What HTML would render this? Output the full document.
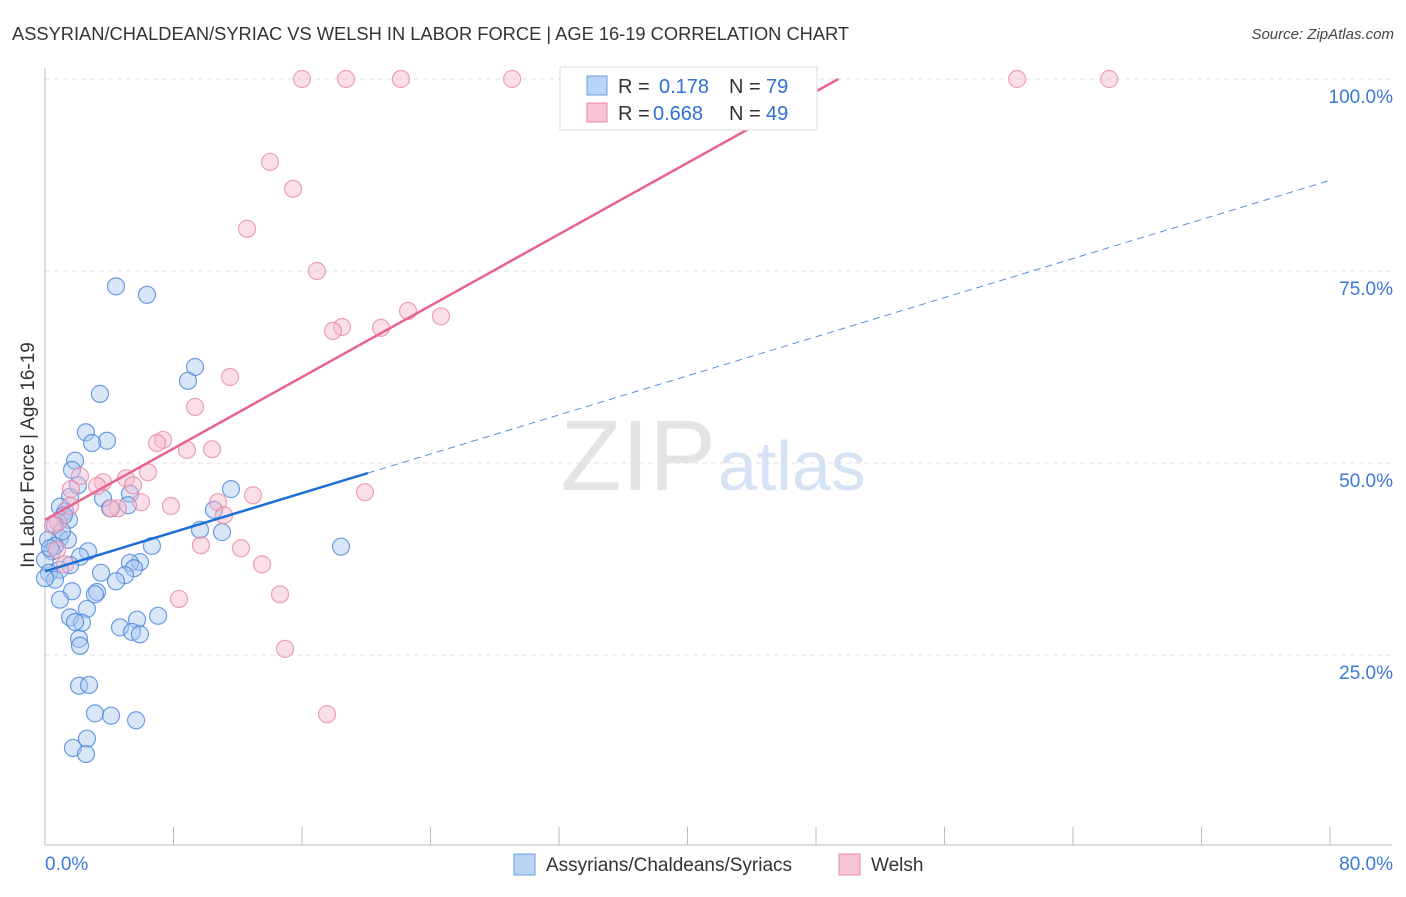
<!DOCTYPE html>
<html><head><meta charset="utf-8"><style>
body{margin:0;background:#fff;font-family:"Liberation Sans",sans-serif;}
svg text{font-family:"Liberation Sans",sans-serif;}
</style></head><body>
<svg id="chart" width="1406" height="892">
<text x="12" y="40" font-size="18.3" fill="#333">ASSYRIAN/CHALDEAN/SYRIAC VS WELSH IN LABOR FORCE | AGE 16-19 CORRELATION CHART</text>
<text x="1394" y="39" font-size="15" fill="#444" font-style="italic" text-anchor="end">Source: ZipAtlas.com</text>
<g id="grid"></g>
<text x="716" y="490" font-size="100" fill="#e4e4e4" font-family="Liberation Serif" text-anchor="end">ZIP</text>
<text x="718" y="490" font-size="70" fill="#d6e3f5">atlas</text>
<g id="marks"></g>
<text transform="translate(34,455) rotate(-90)" font-size="19" fill="#333" text-anchor="middle">In Labor Force | Age 16-19</text>
<g>
<rect x="560" y="67" width="257" height="63" fill="#fff" stroke="#ddd"/>
<rect x="587" y="76" width="20" height="19" fill="#b9d3f5" stroke="#6d9fe0"/>
<rect x="587" y="103" width="20" height="19" fill="#f9c4d4" stroke="#e88aa8"/>
<text x="618" y="93" font-size="20" fill="#333">R =</text>
<text x="659" y="93" font-size="20" fill="#2f6fd6">0.178</text>
<text x="729" y="93" font-size="20" fill="#333">N =</text>
<text x="766" y="93" font-size="20" fill="#2f6fd6">79</text>
<text x="618" y="120" font-size="20" fill="#333">R =</text>
<text x="653" y="120" font-size="20" fill="#2f6fd6">0.668</text>
<text x="729" y="120" font-size="20" fill="#333">N =</text>
<text x="766" y="120" font-size="20" fill="#2f6fd6">49</text>
</g>
<g>
<rect x="514" y="854" width="21" height="21" fill="#b9d3f5" stroke="#6d9fe0"/>
<text x="546" y="871" font-size="19" fill="#333">Assyrians/Chaldeans/Syriacs</text>
<rect x="839" y="854" width="21" height="21" fill="#f9c4d4" stroke="#e88aa8"/>
<text x="871" y="871" font-size="19" fill="#333">Welsh</text>
</g>
</svg>
<script>
const blueX=[4.42,6.35,9.34,8.90,3.42,2.55,3.86,2.93,1.87,1.68,5.29,3.61,1.56,2.05,11.58,5.17,4.05,10.52,1.25,0.93,1.49,1.18,9.65,11.02,0.62,0.93,1.43,0.19,0.62,6.66,2.68,0.44,18.43,2.18,0,1.56,0.93,5.91,5.29,5.54,3.49,4.98,4.42,0.25,0.62,0,1.68,3.24,3.11,0.93,2.61,7.04,5.73,1.56,2.30,1.87,4.67,5.42,5.91,2.12,2.18,2.12,2.74,3.11,4.11,5.67,2.61,1.74,2.55,0.31,1.06];
const blueY=[73.0,71.9,62.5,60.7,59.0,54.0,52.9,52.6,50.3,49.1,46.0,45.4,45.6,47.1,46.6,44.5,44.1,43.9,43.7,44.3,42.6,43.2,41.3,41.0,41.9,40.2,40.0,40.0,39.2,39.2,38.5,38.5,39.1,37.8,37.4,36.7,36.1,37.1,37.0,36.3,35.7,35.4,34.6,35.7,34.8,35.0,33.3,33.2,32.9,32.2,31.0,30.1,29.6,29.9,29.2,29.3,28.6,28.0,27.7,27.1,26.2,21.0,21.1,17.4,17.1,16.5,14.1,12.9,12.1,38.9,41.1];
const pinkX=[16.0,18.74,22.16,29.08,60.52,66.25,36.30,14.01,15.44,12.58,16.93,22.60,20.92,24.65,18.49,17.93,11.52,9.34,7.35,6.97,8.84,10.40,6.41,5.04,3.61,3.24,2.18,1.62,5.48,5.98,7.84,4.54,4.11,10.77,12.95,19.92,11.14,0.81,0.50,0.75,1.25,9.71,12.20,13.51,8.34,14.63,14.94,17.56,1.56];
const pinkY=[100,100,100,100,100,100,100,89.2,85.7,80.5,75.0,69.8,67.6,69.1,67.7,67.2,61.2,57.3,53.0,52.6,51.7,51.8,48.8,48.0,47.5,47.0,48.3,46.6,47.1,44.9,44.4,44.1,44.1,44.9,45.8,46.2,43.2,42.3,41.9,38.7,36.8,39.3,38.9,36.8,32.3,32.9,25.8,17.3,44.4];
const yTicks=[25,50,75,100];
const xTicks=[0,8,16,24,32,40,48,56,64,72,80];
const blueTrend=[35.9,86.8]; // y at x=0, x=80
const blueSolidEnd=20.1;
const pinkTrend=[42.6,1.162]; // intercept, slope
const NS='http://www.w3.org/2000/svg';
const sx=v=>45+v/80*1285;
const sy=v=>847-v/100*768;
function mk(tag,attrs,parent){const e=document.createElementNS(NS,tag);for(const k in attrs)e.setAttribute(k,attrs[k]);parent.appendChild(e);return e;}
const grid=document.getElementById('grid'),marks=document.getElementById('marks');
yTicks.forEach(t=>{
 const l=mk('line',{x1:45,x2:1392,y1:sy(t),y2:sy(t),stroke:'#e2e2e2','stroke-dasharray':'5,4'},grid);
 
 
 const tx=mk('text',{x:1393,y:sy(t)+24,'font-size':19,fill:'#3b7ad8','text-anchor':'end'},grid);
 tx.textContent=t.toFixed(1)+'%';
 
 
});
const ax=mk('line',{x1:45,x2:45,y1:68,y2:845,stroke:'#bbb'},grid);


const bx=mk('line',{x1:45,x2:1392,y1:845,y2:845,stroke:'#bbb'},grid);


xTicks.forEach(t=>{
 const l=mk('line',{x1:sx(t),x2:sx(t),y1:827,y2:845,stroke:'#bbb'},grid);
 
 
});
[[0,'0.0%','start',45],[80,'80.0%','end',1393]].forEach(([v,s,a,x])=>{
 const tx=mk('text',{x:x,y:870,'font-size':19,fill:'#3b7ad8','text-anchor':a},grid);
 tx.textContent=s;
 
 
});
function dots(X,Y,fill,stroke,name){
 X.forEach((x,i)=>{
  const c=mk('circle',{cx:sx(x),cy:sy(Y[i]),r:8.5,fill:fill,'fill-opacity':0.45,stroke:stroke,'stroke-width':1.2,'stroke-opacity':0.8},marks);
  
  
 });
}
dots(blueX,blueY,'#a9c8f0','#4a86db','blue-point');
dots(pinkX,pinkY,'#f7b8cb','#e889a7','pink-point');
const by=x=>blueTrend[0]+(blueTrend[1]-blueTrend[0])*x/80;
const b1=mk('line',{x1:sx(0),y1:sy(by(0)),x2:sx(blueSolidEnd),y2:sy(by(blueSolidEnd)),stroke:'#1f6ed4','stroke-width':2.5},marks);


const b2=mk('line',{x1:sx(blueSolidEnd),y1:sy(by(blueSolidEnd)),x2:sx(80),y2:sy(by(80)),stroke:'#5b8fd8','stroke-width':1,'stroke-dasharray':'7,5'},marks);


const pEnd=(100-pinkTrend[0])/pinkTrend[1];
const p1=mk('line',{x1:sx(0),y1:sy(pinkTrend[0]),x2:sx(pEnd),y2:sy(100),stroke:'#e8648f','stroke-width':2.5},marks);


</script>
</body></html>
